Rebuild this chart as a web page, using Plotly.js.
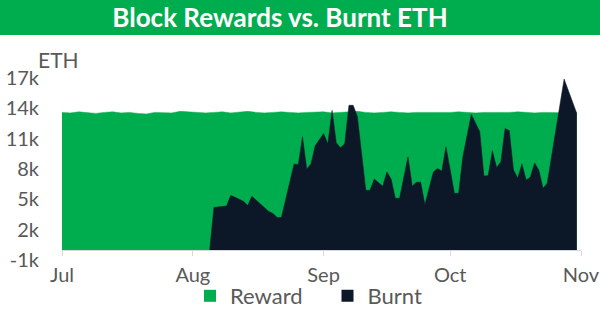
<!DOCTYPE html>
<html>
<head>
<meta charset="utf-8">
<script src="https://cdn.plot.ly/plotly-3.0.1.min.js"></script>
<style>html,body{margin:0;padding:0;background:#fff;}#chart{width:600px;height:311px;}</style>
</head>
<body>
<div id="chart"></div>
<script>
// ---- data (ETH per day) ----
var rewardStart = '2021-07-01';   // reward series, one value every 2 days
var rewardStepDays = 2;
var rewardValues = [13600,13550,13650,13600,13500,13600,13650,13550,13600,13500,
                    13450,13600,13600,13550,13700,13650,13600,13550,13600,13650,
                    13550,13600,13700,13600,13550,13600,13650,13600,13550,13600,
                    13600,13650,13550,13600,13600,13700,13600,13550,13600,13650,
                    13600,13550,13600,13600,13600,13550,13600,13650,13600,13550,
                    13600,13600,13550,13600,13650,13600,13550,13600,13600,13550,
                    13600,13550];

var burntDates = ['2021-08-05','2021-08-06','2021-08-09','2021-08-10','2021-08-13','2021-08-14','2021-08-15',
                  '2021-08-19','2021-08-20','2021-08-21','2021-08-22','2021-08-25','2021-08-26','2021-08-27',
                  '2021-08-28','2021-08-29','2021-08-30','2021-09-01','2021-09-02','2021-09-03','2021-09-04',
                  '2021-09-05','2021-09-06','2021-09-07','2021-09-08','2021-09-09','2021-09-11','2021-09-12',
                  '2021-09-13','2021-09-15','2021-09-16','2021-09-17','2021-09-18','2021-09-19','2021-09-21',
                  '2021-09-22','2021-09-23','2021-09-24','2021-09-25','2021-09-27','2021-09-28','2021-09-29',
                  '2021-09-30','2021-10-02','2021-10-03','2021-10-04','2021-10-06','2021-10-08','2021-10-09',
                  '2021-10-10','2021-10-11','2021-10-12','2021-10-13','2021-10-14','2021-10-15','2021-10-16',
                  '2021-10-17','2021-10-18','2021-10-19','2021-10-20','2021-10-21','2021-10-22','2021-10-23',
                  '2021-10-24','2021-10-28','2021-10-31'];
var burntValues = [0,4200,4350,5400,4800,4400,5300,
                   3800,3600,3200,3200,8500,8450,11200,
                   8000,8500,10300,11500,10500,13800,10600,
                   10100,10500,14300,14300,13200,5900,5900,
                   7000,6300,7700,7000,5100,5100,9200,
                   6300,6700,6700,4500,7700,8050,7800,
                   10200,5600,5600,9200,13400,11700,7300,
                   7350,9800,8150,8700,12000,11800,7900,
                   7100,8500,6900,7200,8600,7900,6100,
                   6600,16900,13500];

var monthTicks = ['2021-07-01','2021-08-01','2021-09-01','2021-10-01','2021-11-01'];
var monthLabels = ['Jul','Aug','Sep','Oct','Nov'];
var yTicks = [-1000,2000,5000,8000,11000,14000,17000];
var yLabels = ['-1k','2k','5k','8k','11k','14k','17k'];
var seriesNames = ['Reward','Burnt'];

// ---- build reward dates ----
var rewardDates = [];
(function(){
  var d0 = new Date(rewardStart + 'T00:00:00Z');
  for (var i = 0; i < rewardValues.length; i++) {
    var d = new Date(d0.getTime() + i * rewardStepDays * 86400000);
    rewardDates.push(d.toISOString().slice(0,10));
  }
})();

var GREEN = '#00ad4e';
var DARK = '#0c1828';
var GRAY = '#595959';
var FONT = 'Lato, "Open Sans", sans-serif';

var traces = [
  {x: rewardDates, y: rewardValues, type: 'scatter', mode: 'lines', fill: 'tozeroy',
   line: {color: GREEN, width: 0.5}, fillcolor: GREEN, showlegend: false, hoverinfo: 'skip'},
  {x: burntDates, y: burntValues, type: 'scatter', mode: 'lines', fill: 'tozeroy',
   line: {color: DARK, width: 0.5}, fillcolor: DARK, showlegend: false, hoverinfo: 'skip'},
  {x: [null], y: [null], type: 'scatter', mode: 'markers', name: seriesNames[0], legend: 'legend',
   marker: {symbol: 'square', size: 12, color: GREEN}},
  {x: [null], y: [null], type: 'scatter', mode: 'markers', name: seriesNames[1], legend: 'legend2',
   marker: {symbol: 'square', size: 12, color: DARK}}
];

var legendFont = {family: FONT, size: 22, color: GRAY};
var layout = {
  width: 600, height: 311,
  margin: {l: 62, r: 19, t: 78, b: 51, pad: 0, autoexpand: false},
  paper_bgcolor: '#ffffff', plot_bgcolor: '#ffffff',
  font: {family: FONT, color: GRAY, size: 20},
  title: {text: '<b>Block Rewards vs. Burnt ETH</b>', font: {family: FONT, size: 26, color: '#ffffff'},
          x: 280/600, xanchor: 'center', xref: 'container', y: 1 - 18/311, yanchor: 'middle', yref: 'container'},
  xaxis: {type: 'date', range: ['2021-07-01','2021-11-01'], tickvals: monthTicks, ticktext: monthLabels,
          ticks: 'outside', ticklen: 5, tickcolor: '#d9d9d9', tickwidth: 1,
          showline: true, linecolor: '#d9d9d9', linewidth: 1, showgrid: false, zeroline: false,
          anchor: 'free', position: 10/182, tickfont: {family: FONT, size: 20, color: GRAY},
          ticklabelstandoff: 2, fixedrange: true, automargin: false},
  yaxis: {range: [-1000, 17000], tickvals: yTicks, ticktext: yLabels, showgrid: false, zeroline: false,
          showline: false, ticks: '', tickfont: {family: FONT, size: 20, color: GRAY},
          ticklabelstandoff: 22, fixedrange: true, automargin: false},
  showlegend: true,
  legend: {orientation: 'h', x: (190-62)/519, xanchor: 'left', y: (260-296)/182, yanchor: 'middle',
           font: legendFont, bgcolor: 'rgba(0,0,0,0)', borderwidth: 0},
  legend2: {orientation: 'h', x: (327.5-62)/519, xanchor: 'left', y: (260-296)/182, yanchor: 'middle',
           font: legendFont, bgcolor: 'rgba(0,0,0,0)', borderwidth: 0},
  shapes: [
    {type: 'rect', xref: 'paper', yref: 'paper', x0: -0.2, x1: 1.2, y0: 1.236, y1: 1.6,
     fillcolor: GREEN, line: {width: 0}, layer: 'below'}
  ],
  annotations: [
    {text: 'ETH', xref: 'paper', yref: 'paper', x: -26/519, xanchor: 'left', y: (260-60)/182, yanchor: 'middle',
     showarrow: false, font: {family: FONT, size: 21, color: GRAY}}
  ]
};

Plotly.newPlot('chart', traces, layout, {displayModeBar: false, staticPlot: true});
</script>
</body>
</html>
